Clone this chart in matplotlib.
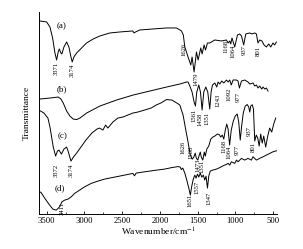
import matplotlib
matplotlib.use("Agg")
import matplotlib.pyplot as plt
from matplotlib.ticker import MultipleLocator

plt.rcParams['font.family'] = ['Liberation Serif', 'DejaVu Serif']
plt.rcParams['mathtext.fontset'] = 'stix'

# ---- data (wavenumber in cm^-1, transmittance in arbitrary offset units) ----
wn_a = [3589, 3500, 3456, 3421, 3390, 3368, 3347, 3333, 3311, 3298, 3271, 3235, 3205, 3178,
        3161, 3139, 3103, 3037, 2971, 2883, 2795, 2663, 2530, 2360, 2341, 2323, 2266, 2090,
        1912, 1780, 1714, 1690, 1670, 1627, 1591, 1574, 1547, 1516, 1494, 1459, 1441, 1415,
        1396, 1370, 1340, 1273, 1185, 1119, 1097, 1075, 1062, 1045, 1009, 973, 943, 920, 890,
        863, 810, 780, 744, 722, 701, 678, 648, 621, 589, 559, 532, 502, 480, 457]
t_a = [193, 192, 187, 176, 161, 154, 162, 165, 161, 160, 167, 172, 167, 157,
       152, 157, 161, 166, 171, 175, 178, 181, 182, 183, 181, 182, 184, 185,
       186, 186, 183, 179, 167, 157, 149, 157, 142, 162, 154, 166, 160, 169,
       164, 171, 171, 174, 173, 174, 171, 173, 170, 176, 167, 179, 180, 178, 169,
       180, 181, 180, 181, 180, 171, 174, 173, 169, 167, 170, 167, 171, 169, 172]

wn_b = [3589, 3456, 3347, 3311, 3280, 3235, 3192, 3148, 3103, 3059, 2971, 2795, 2574, 2354,
        2133, 1912, 1736, 1648, 1627, 1604, 1574, 1547, 1529, 1512, 1485, 1463, 1441, 1419,
        1392, 1366, 1340, 1322, 1304, 1273, 1247, 1230, 1207, 1181, 1154, 1119, 1097, 1075,
        1055, 1031, 986, 965, 947, 920, 876, 833, 810, 767, 744, 722, 701, 678, 652, 634,
        612, 589, 568]
t_b = [115, 116, 117, 115, 111, 103, 98, 95, 94.5, 96, 101, 108, 114, 119,
       123, 127, 130, 132, 132, 128, 122, 112, 108, 122, 129, 122, 104, 122,
       127, 122, 105, 122, 129, 131, 127, 132, 130, 133, 131, 134, 132, 134,
       129, 134, 134, 133, 126, 133, 134, 132, 130, 131, 128, 129, 126, 128, 125, 127,
       125, 126, 123]

wn_c = [3602, 3536, 3483, 3456, 3412, 3381, 3357, 3337, 3304, 3271, 3235, 3212, 3178, 3145,
        3103, 3046, 2980, 2901, 2834, 2799, 2755, 2719, 2689, 2623, 2557, 2490, 2424, 2358,
        2292, 2203, 2116, 2050, 1988, 1912, 1842, 1776, 1736, 1693, 1657, 1627, 1598, 1571,
        1551, 1532, 1518, 1498, 1479, 1465, 1452, 1432, 1412, 1399, 1379, 1353, 1326, 1300,
        1273, 1240, 1214, 1194, 1174, 1154, 1134, 1115, 1097, 1077, 1055, 1028, 1002, 976,
        956, 936, 916, 896, 870, 843, 824, 810, 797, 777, 761, 744, 724, 704, 685, 665, 645,
        625, 599, 572, 546, 519, 493, 466]
t_c = [104, 101, 96, 87, 67, 58, 63, 64, 60, 65, 67, 62, 53, 57,
       61, 67, 74, 81, 85, 86, 84, 89, 86, 92, 96, 97, 99, 101,
       102, 104, 106, 109, 111, 114.5, 114, 111, 109, 99, 84, 72, 59, 55,
       57, 61, 56, 54, 59, 62, 57, 54, 62, 58, 65, 68, 75, 77,
       78, 80, 79.5, 77, 79, 75, 84, 90, 85, 69, 84, 93, 98, 100,
       92, 74, 89, 101, 108, 109.5, 107, 102, 108, 109.3, 105, 73, 79, 76, 68, 80, 71,
       78, 67, 78, 86, 82, 90, 96]

wn_d = [3602, 3571, 3526, 3460, 3417, 3373, 3328, 3298, 3262, 3218, 3174, 3130, 3063, 2997,
        2910, 2821, 2733, 2600, 2468, 2358, 2336, 2315, 2203, 2071, 1939, 1842, 1763, 1730,
        1717, 1697, 1670, 1644, 1617, 1597, 1578, 1558, 1538, 1521, 1502, 1485, 1465, 1445,
        1425, 1406, 1389, 1370, 1353, 1333, 1300, 1251, 1207, 1163, 1119, 1097, 1075, 1053,
        1009, 986, 965, 920, 876, 833, 788, 767, 722, 678, 634, 589, 545, 502, 457]
t_d = [23, 21.3, 16, 9, 5, 4, 7.3, 12.3, 14, 15, 17.3, 20.7, 24, 27.3,
       30.7, 33, 35, 37, 39, 40.7, 38.3, 41, 42.3, 43.7, 45, 46.5, 47.5, 47,
       44.5, 46, 41, 34, 26, 19, 28, 35, 39, 36, 40, 37, 41, 37,
       39, 34, 38, 26, 38, 43, 44, 45, 46.5, 48.3, 49.7, 50.7, 49, 52.3,
       50.7, 54, 52.3, 55.7, 54, 55.7, 54, 57.3, 54, 55.7, 57.3, 59, 60.7, 62.3, 63.3]

curve_names = ["(a)", "(b)", "(c)", "(d)"]
x_ticks = [3500, 3000, 2500, 2000, 1500, 1000, 500]

# peak labels: text, x position (cm^-1), y position (a.u.)
peak_labels = [
    ("3371", 3368, 146), ("3174", 3161, 144), ("1626", 1684, 165), ("1479", 1525, 135),
    ("1168", 1128, 168), ("1064", 1035, 162.5), ("937", 883, 164), ("801", 698, 163),
    ("1561", 1545, 99), ("1458", 1465, 95), ("1351", 1379, 96), ("1243", 1227, 114),
    ("1092", 1081, 120), ("977", 963, 117),
    ("3372", 3377, 44), ("3174", 3169, 44), ("1626", 1690, 67), ("1508", 1584, 62),
    ("1473", 1498, 49), ("1351", 1445, 48), ("1168", 1154, 68), ("1064", 1088, 62),
    ("977", 976, 64), ("937", 817, 83), ("801", 764, 67),
    ("3411", 3294, 5.5), ("1651", 1604, 14), ("1557", 1505, 27), ("1347", 1357, 15.5),
]
name_pos = [(3298, 188), (3298, 125), (3284, 78), (3324, 26)]

fig = plt.figure(figsize=(3.03, 2.49), dpi=100)
ax = fig.add_axes([0.129, 0.14, 0.785, 0.812])

for wn, t in [(wn_a, t_a), (wn_b, t_b), (wn_c, t_c), (wn_d, t_d)]:
    ax.plot(wn, t, color='black', lw=0.7)

for name, (x, y) in zip(curve_names, name_pos):
    ax.text(x, y, name, fontsize=6.5, ha='center', va='center')

for txt, x, y in peak_labels:
    ax.text(x, y, txt, fontsize=4.8, rotation=90, ha='center', va='center')

ax.set_xlim(3600, 450)
ax.set_ylim(0, 202)
ax.set_xticks(x_ticks)
ax.xaxis.set_minor_locator(MultipleLocator(250))
ax.set_yticks([])
ax.spines['top'].set_visible(False)
ax.spines['right'].set_visible(False)
ax.spines['left'].set_linewidth(0.7)
ax.spines['bottom'].set_linewidth(0.7)
ax.tick_params(axis='x', which='major', direction='in', length=2.5, width=0.6,
               labelsize=6.2, pad=2)
ax.tick_params(axis='x', which='minor', direction='in', length=1.5, width=0.5)
ax.set_xlabel("Wavenumber/cm$^{-1}$", fontsize=6.8, labelpad=1)
ax.set_ylabel("Transmittance", fontsize=6.8, labelpad=6)

fig.savefig("out.png", dpi=100)
